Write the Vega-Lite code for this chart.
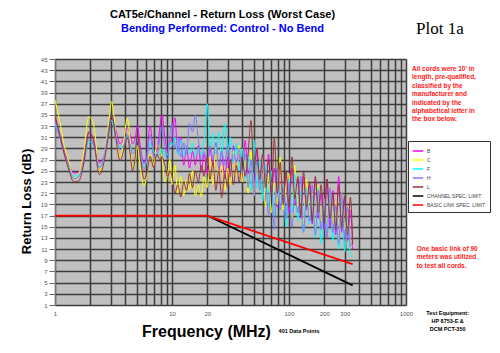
{
  "$schema": "https://vega.github.io/schema/vega-lite/v6.json",
  "width": 351,
  "height": 246,
  "autosize": {"type": "none"},
  "padding": {"left": 55, "top": 59, "right": 94, "bottom": 48},
  "background": "white",
  "title": {
    "text": "CAT5e/Channel - Return Loss (Worst Case)",
    "subtitle": "Bending Performed: Control - No Bend",
    "anchor": "middle", "frame": "group", "dx": -8, "offset": -14,
    "font": "Liberation Sans", "fontSize": 11, "fontWeight": "bold", "color": "#000000",
    "subtitleFont": "Liberation Sans", "subtitleFontSize": 11, "subtitleFontWeight": "bold",
    "subtitleColor": "#0000ff", "subtitlePadding": 3
  },
  "datasets": {
    "cords": [
      {"f": 1, "B": 34.5, "C": 37.7, "F": 33.5, "H": 33, "L": 35},
      {"f": 1.1, "B": 31.5, "C": 33.8, "F": 31, "H": 31, "L": 31.3},
      {"f": 1.2, "B": 28.5, "C": 29.5, "F": 28, "H": 28, "L": 28},
      {"f": 1.3, "B": 26.5, "C": 27, "F": 26, "H": 26, "L": 25.5},
      {"f": 1.45, "B": 24.6, "C": 23.8, "F": 24, "H": 23.6, "L": 23},
      {"f": 1.6, "B": 24.8, "C": 24.5, "F": 24.3, "H": 24, "L": 23.2},
      {"f": 1.75, "B": 27, "C": 28, "F": 26, "H": 26.2, "L": 26},
      {"f": 1.95, "B": 31.8, "C": 34.7, "F": 30.3, "H": 30.8, "L": 32},
      {"f": 2.15, "B": 30.5, "C": 33, "F": 29.3, "H": 29.5, "L": 30},
      {"f": 2.4, "B": 26.4, "C": 24.9, "F": 25.7, "H": 25.5, "L": 24.3},
      {"f": 2.65, "B": 28, "C": 28, "F": 27.5, "H": 27.8, "L": 27},
      {"f": 2.85, "B": 31.5, "C": 33, "F": 31.5, "H": 32, "L": 31},
      {"f": 3.05, "B": 34.2, "C": 37.4, "F": 34, "H": 35, "L": 35},
      {"f": 3.3, "B": 32.5, "C": 32, "F": 31, "H": 31.5, "L": 31},
      {"f": 3.6, "B": 29.8, "C": 27.3, "F": 29.2, "H": 28.8, "L": 26.8},
      {"f": 3.85, "B": 30.8, "C": 30, "F": 29.5, "H": 29.5, "L": 28.5},
      {"f": 4.15, "B": 32.7, "C": 34.4, "F": 31.2, "H": 31.5, "L": 30.9},
      {"f": 4.4, "B": 31.5, "C": 30, "F": 29.5, "H": 29.5, "L": 28},
      {"f": 4.6, "B": 29.8, "C": 25.3, "F": 28.6, "H": 28, "L": 25},
      {"f": 4.85, "B": 30.8, "C": 27, "F": 29, "H": 29, "L": 27.5},
      {"f": 5.05, "B": 33, "C": 29.5, "F": 30.5, "H": 30.8, "L": 31.5},
      {"f": 5.4, "B": 29, "C": 25, "F": 28, "H": 27.5, "L": 27},
      {"f": 5.75, "B": 26.3, "C": 22.3, "F": 25.7, "H": 25.2, "L": 23.5},
      {"f": 6.1, "B": 28, "C": 24, "F": 27, "H": 27, "L": 24.5},
      {"f": 6.5, "B": 33, "C": 28, "F": 30, "H": 31.5, "L": 27.6},
      {"f": 7.0, "B": 28, "C": 26, "F": 28.5, "H": 27.5, "L": 25.5},
      {"f": 7.4, "B": 28.5, "C": 29.5, "F": 27.8, "H": 27.5, "L": 28},
      {"f": 7.9, "B": 33, "C": 29, "F": 28, "H": 31, "L": 27},
      {"f": 8.2, "B": 35, "C": 27.5, "F": 29, "H": 33, "L": 27.5},
      {"f": 8.7, "B": 31, "C": 23, "F": 27.5, "H": 29, "L": 26},
      {"f": 9.2, "B": 28.5, "C": 24.5, "F": 28, "H": 27, "L": 24},
      {"f": 9.6, "B": 30, "C": 27, "F": 30, "H": 31.5, "L": 25},
      {"f": 10.0, "B": 31, "C": 22.5, "F": 29.5, "H": 33.5, "L": 24},
      {"f": 10.6, "B": 34.5, "C": 26, "F": 31, "H": 29, "L": 21},
      {"f": 11.2, "B": 28, "C": 21, "F": 28, "H": 31, "L": 22.5},
      {"f": 11.9, "B": 31, "C": 24, "F": 30.5, "H": 27.5, "L": 20.3},
      {"f": 12.6, "B": 26, "C": 20.5, "F": 27.5, "H": 30, "L": 23},
      {"f": 13.3, "B": 29.5, "C": 23.5, "F": 29.5, "H": 28, "L": 21.5},
      {"f": 14.1, "B": 25.5, "C": 21.5, "F": 28, "H": 33.5, "L": 24.5},
      {"f": 15.0, "B": 28.5, "C": 25, "F": 30, "H": 32, "L": 22},
      {"f": 15.8, "B": 26, "C": 20.5, "F": 27.5, "H": 35, "L": 25},
      {"f": 16.8, "B": 29.5, "C": 22.5, "F": 29, "H": 30.5, "L": 23},
      {"f": 17.8, "B": 25, "C": 20.3, "F": 28, "H": 27, "L": 26},
      {"f": 18.8, "B": 28, "C": 24, "F": 30.5, "H": 28.5, "L": 24},
      {"f": 20.0, "B": 24.5, "C": 22, "F": 37, "H": 26, "L": 27.5},
      {"f": 21.1, "B": 29, "C": 27.5, "F": 29, "H": 29.5, "L": 23.5},
      {"f": 22.4, "B": 26, "C": 22.5, "F": 31.5, "H": 27, "L": 26.5},
      {"f": 23.7, "B": 30, "C": 29.5, "F": 28, "H": 30, "L": 21.5},
      {"f": 25.1, "B": 25, "C": 24, "F": 32, "H": 25.5, "L": 25},
      {"f": 26.6, "B": 28.5, "C": 26, "F": 27.5, "H": 28.5, "L": 20.2},
      {"f": 28.2, "B": 23.5, "C": 21.5, "F": 33.5, "H": 26, "L": 24.5},
      {"f": 29.9, "B": 27.5, "C": 25.5, "F": 28.5, "H": 29.5, "L": 22},
      {"f": 31.6, "B": 24, "C": 22.5, "F": 31, "H": 25, "L": 27},
      {"f": 33.5, "B": 29.5, "C": 28.5, "F": 26.5, "H": 28, "L": 22.5},
      {"f": 35.5, "B": 25, "C": 24, "F": 30, "H": 26.5, "L": 26},
      {"f": 37.6, "B": 28, "C": 29.5, "F": 25, "H": 29, "L": 23},
      {"f": 39.8, "B": 23, "C": 23, "F": 29, "H": 24.5, "L": 27.5},
      {"f": 42.2, "B": 30.5, "C": 27, "F": 23.5, "H": 28, "L": 24},
      {"f": 44.7, "B": 24.5, "C": 21, "F": 28, "H": 22, "L": 28},
      {"f": 47.3, "B": 27, "C": 28.5, "F": 21.5, "H": 27, "L": 34},
      {"f": 50.1, "B": 21.5, "C": 20.5, "F": 30.5, "H": 20.5, "L": 25},
      {"f": 53.1, "B": 29, "C": 26, "F": 22, "H": 26.5, "L": 29},
      {"f": 56.2, "B": 22, "C": 22, "F": 27, "H": 21.5, "L": 23.5},
      {"f": 59.6, "B": 26.5, "C": 27.5, "F": 19.5, "H": 28, "L": 28},
      {"f": 63.1, "B": 19.5, "C": 18.5, "F": 26, "H": 24, "L": 22},
      {"f": 66.8, "B": 28, "C": 24.5, "F": 18.5, "H": 17, "L": 27},
      {"f": 70.8, "B": 21, "C": 17.5, "F": 25, "H": 23, "L": 20.5},
      {"f": 75.0, "B": 25.5, "C": 23, "F": 17, "H": 14.5, "L": 30.8},
      {"f": 79.4, "B": 18.5, "C": 19, "F": 24.5, "H": 25.5, "L": 21},
      {"f": 84.1, "B": 26.5, "C": 27.5, "F": 19, "H": 18, "L": 26.5},
      {"f": 89.1, "B": 20, "C": 18, "F": 22.5, "H": 22, "L": 19},
      {"f": 94.4, "B": 24, "C": 22.5, "F": 15, "H": 16.5, "L": 25},
      {"f": 100, "B": 17.5, "C": 24.5, "F": 23.5, "H": 23, "L": 18.5},
      {"f": 106, "B": 25.5, "C": 16, "F": 17.5, "H": 15, "L": 27.5},
      {"f": 112, "B": 19, "C": 26, "F": 24.5, "H": 21, "L": 20},
      {"f": 119, "B": 23.5, "C": 18.5, "F": 16, "H": 17.5, "L": 24},
      {"f": 126, "B": 16.5, "C": 22, "F": 21.5, "H": 24, "L": 17},
      {"f": 133, "B": 24, "C": 15.5, "F": 14, "H": 14, "L": 25},
      {"f": 141, "B": 18, "C": 23.5, "F": 22, "H": 20.5, "L": 18.5},
      {"f": 150, "B": 22.5, "C": 17, "F": 15.5, "H": 16, "L": 23},
      {"f": 158, "B": 15.5, "C": 21, "F": 20.5, "H": 22.5, "L": 16},
      {"f": 168, "B": 23.5, "C": 14.5, "F": 13, "H": 13.5, "L": 24},
      {"f": 178, "B": 16.5, "C": 22.5, "F": 22, "H": 21.5, "L": 17.5},
      {"f": 188, "B": 21, "C": 16, "F": 12, "H": 14.5, "L": 22.5},
      {"f": 200, "B": 14.5, "C": 20, "F": 19.5, "H": 20, "L": 15.5},
      {"f": 211, "B": 23.5, "C": 14, "F": 14, "H": 13, "L": 23.5},
      {"f": 224, "B": 15, "C": 22, "F": 21.5, "H": 22, "L": 16.5},
      {"f": 237, "B": 21.5, "C": 15.5, "F": 12.5, "H": 14, "L": 21},
      {"f": 251, "B": 13.5, "C": 19.5, "F": 18.5, "H": 19, "L": 14.5},
      {"f": 266, "B": 24, "C": 12.5, "F": 11, "H": 12, "L": 22.5},
      {"f": 282, "B": 14, "C": 21, "F": 20, "H": 21, "L": 15},
      {"f": 299, "B": 20, "C": 14.5, "F": 10.5, "H": 13, "L": 20.5},
      {"f": 316, "B": 12.5, "C": 17.5, "F": 16.5, "H": 18.5, "L": 13.5},
      {"f": 335, "B": 18, "C": 12, "F": 10, "H": 11.5, "L": 20.3},
      {"f": 350, "B": 11, "C": 11.5, "F": 9.5, "H": 12.5, "L": 12}
    ],
    "limits": [
      {"f": 20, "rl": 17, "s": "CHANNEL SPEC. LIMIT"},
      {"f": 350, "rl": 4.5, "s": "CHANNEL SPEC. LIMIT"},
      {"f": 1, "rl": 17, "s": "BASIC LINK SPEC. LIMIT"},
      {"f": 20, "rl": 17, "s": "BASIC LINK SPEC. LIMIT"},
      {"f": 350, "rl": 8.3, "s": "BASIC LINK SPEC. LIMIT"}
    ]
  },
  "encoding": {
    "x": {
      "field": "f", "type": "quantitative",
      "scale": {"type": "log", "domain": [1, 1000], "nice": false},
      "axis": {
        "values": [1,2,3,4,5,6,7,8,9,10,20,30,40,50,60,70,80,90,100,200,300,400,500,600,700,800,900,1000],
        "labelExpr": "indexof([1,10,20,100,200,300,1000], datum.value) >= 0 ? datum.label : ''",
        "format": "d", "labelOverlap": false, "labelFlush": false,
        "ticks": false, "domain": false, "labelPadding": 5,
        "labelFontSize": 6, "labelColor": "#555555", "labelFont": "Liberation Sans",
        "title": "Frequency (MHz)", "titleFont": "Liberation Sans", "titleFontSize": 16,
        "titleFontWeight": "bold", "titleColor": "#000000",
        "titleX": 151, "titleY": 26, "titleAlign": "center", "titleBaseline": "middle"
      }
    },
    "y": {
      "field": "rl", "type": "quantitative",
      "scale": {"domain": [1, 45], "nice": false, "zero": false},
      "axis": {
        "values": [1,3,5,7,9,11,13,15,17,19,21,23,25,27,29,31,33,35,37,39,41,43,45],
        "labelFontSize": 6, "labelColor": "#555555", "labelFont": "Liberation Sans",
        "tickSize": 6, "tickColor": "#666666", "labelPadding": 2,
        "domainColor": "#777777", "labelOverlap": false, "labelFlush": false,
        "title": "Return Loss (dB)", "titleFont": "Liberation Sans", "titleFontSize": 13,
        "titleFontWeight": "bold", "titleColor": "#000000",
        "titleX": -29, "titleY": 142, "titleAlign": "center", "titleBaseline": "middle"
      }
    }
  },
  "layer": [
    {
      "data": {"name": "cords"},
      "transform": [{"fold": ["B", "C", "F", "H", "L"], "as": ["s", "rl"]}],
      "mark": {"type": "line", "strokeWidth": 1, "interpolate": "monotone", "clip": true},
      "encoding": {
        "color": {
          "field": "s", "type": "nominal",
          "scale": {
            "domain": ["B", "C", "F", "H", "L", "CHANNEL SPEC. LIMIT", "BASIC LINK SPEC. LIMIT"],
            "range": ["#ff00ff", "#ffff00", "#00ffff", "#7b7bff", "#993333", "#000000", "#ff0000"]
          },
          "legend": {
            "title": null, "orient": "none", "legendX": 353, "legendY": 82,
            "strokeColor": "#333333", "fillColor": "#ffffff", "padding": 4,
            "symbolType": "stroke", "symbolSize": 110, "symbolStrokeWidth": 1.5,
            "labelFontSize": 5, "labelColor": "#444444", "labelFont": "Liberation Sans",
            "rowPadding": -1, "labelOffset": 3
          }
        }
      }
    },
    {
      "data": {"name": "limits"},
      "mark": {"type": "line", "strokeWidth": 1.8},
      "encoding": {
        "color": {"field": "s", "type": "nominal"}
      }
    },
    {
      "data": {"values": [{"f": 1950, "rl": 50.4, "label": "Plot 1a"}]},
      "mark": {"type": "text", "font": "Liberation Serif", "fontSize": 17, "color": "#000000", "align": "center", "baseline": "middle", "clip": false},
      "encoding": {"text": {"field": "label"}}
    },
    {
      "data": {"values": [{"f": 1125, "rl": 43.2, "label": "All cords were 10' in\nlength, pre-qualified,\nclassified by the\nmanufacturer and\nindicated by the\nalphabetical letter in\nthe box below."}]},
      "mark": {"type": "text", "font": "Liberation Sans", "fontSize": 6.5, "fontWeight": "bold", "color": "#ff2020", "align": "left", "baseline": "middle", "lineBreak": "\n", "lineHeight": 8.4, "clip": false},
      "encoding": {"text": {"field": "label"}}
    },
    {
      "data": {"values": [{"f": 1234, "rl": 11.0, "label": "One basic link of 90\nmeters was utilized\nto test all cords."}]},
      "mark": {"type": "text", "font": "Liberation Sans", "fontSize": 6.5, "fontWeight": "bold", "color": "#ff2020", "align": "left", "baseline": "middle", "lineBreak": "\n", "lineHeight": 8.4, "clip": false},
      "encoding": {"text": {"field": "label"}}
    },
    {
      "data": {"values": [{"f": 2270, "rl": -0.4, "label": "Test Equipment:\nHP 8753-E &\nDCM PCT-350"}]},
      "mark": {"type": "text", "font": "Liberation Sans", "fontSize": 5.5, "fontWeight": "bold", "color": "#000000", "align": "center", "baseline": "middle", "lineBreak": "\n", "lineHeight": 8, "clip": false},
      "encoding": {"text": {"field": "label"}}
    },
    {
      "data": {"values": [{"f": 122, "rl": -3.6, "label": "401 Data Points"}]},
      "mark": {"type": "text", "font": "Liberation Sans", "fontSize": 5.5, "fontWeight": "bold", "color": "#000000", "align": "center", "baseline": "middle", "clip": false},
      "encoding": {"text": {"field": "label"}}
    }
  ],
  "config": {
    "view": {"stroke": null, "fill": "#c0c0c0"},
    "axis": {"grid": true, "gridColor": "#3c3c3c", "gridWidth": 1.5, "gridOpacity": 1}
  }
}
